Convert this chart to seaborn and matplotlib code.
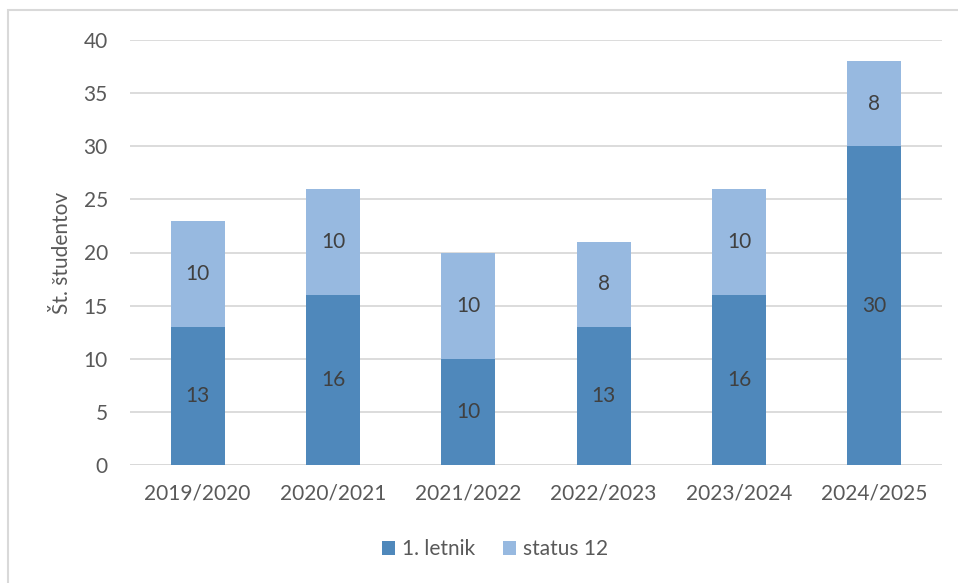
import matplotlib
matplotlib.use("Agg")
import matplotlib.pyplot as plt
import seaborn as sns
import pandas as pd
from matplotlib.patches import Rectangle

years = ["2019/2020", "2020/2021", "2021/2022", "2022/2023", "2023/2024", "2024/2025"]
letnik = [13, 16, 10, 13, 16, 30]
status12 = [10, 10, 10, 8, 10, 8]
yticks = [0, 5, 10, 15, 20, 25, 30, 35, 40]

sns.set_theme(style="white")
plt.rcParams['font.family'] = ['Lato', 'DejaVu Sans']

dark = "#4F88BB"
light = "#97B9E0"
txt = "#595959"
FS = 15

fig = plt.figure(figsize=(9.58, 5.83), dpi=100)
ax = fig.add_axes([130/958, 1-465/583, (942-130)/958, (465-40)/583])

df = pd.DataFrame({"year": years, "letnik": letnik, "status": status12})
df["total"] = df["letnik"] + df["status"]

sns.barplot(data=df, x="year", y="total", color=light, width=0.4, ax=ax,
            saturation=1, label="status 12", zorder=2, linewidth=0, edgecolor="none")
sns.barplot(data=df, x="year", y="letnik", color=dark, width=0.4, ax=ax,
            saturation=1, label="1. letnik", zorder=3, linewidth=0, edgecolor="none")
if ax.get_legend() is not None:
    ax.get_legend().remove()

for i, (a, b) in enumerate(zip(letnik, status12)):
    ax.text(i, a/2, str(a), ha="center", va="center", fontsize=FS, color="#404040", zorder=5)
    ax.text(i, a + b/2, str(b), ha="center", va="center", fontsize=FS, color="#404040", zorder=5)

ax.set_ylim(0, 40)
ax.set_xlim(-0.5, 5.5)
ax.set_yticks(yticks)
ax.yaxis.grid(True, color="#D9D9D9", linewidth=1.3, zorder=0)
ax.set_axisbelow(True)
for s in ax.spines.values():
    s.set_visible(False)
ax.axhline(0, color="#D9D9D9", linewidth=1.3, zorder=1)
ax.tick_params(axis="both", length=0, labelsize=FS, labelcolor=txt)
ax.tick_params(axis="x", pad=13)
ax.tick_params(axis="y", pad=16)
ax.set_xlabel("")
ax.set_ylabel("Št. študentov", fontsize=FS, color=txt, labelpad=8)

handles, labels = ax.get_legend_handles_labels()
order = [labels.index("1. letnik"), labels.index("status 12")]
leg = fig.legend([handles[k] for k in order], [labels[k] for k in order],
                 loc="center", bbox_to_anchor=(495/958, 1-549/583), ncol=2,
                 frameon=False, fontsize=FS, handlelength=0.65, handleheight=0.65,
                 handletextpad=0.35, columnspacing=1.3)
for t in leg.get_texts():
    t.set_color(txt)

fig.patches.append(Rectangle((8/958, -10/583), 1.0, (583-10+10)/583,
                             transform=fig.transFigure, fill=False,
                             edgecolor="#D9D9D9", linewidth=1.5, clip_on=False))

fig.savefig("out.png", dpi=100)
